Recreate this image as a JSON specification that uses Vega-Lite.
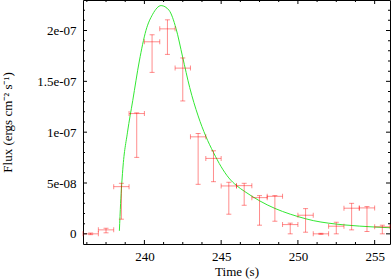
{
  "$schema": "https://vega.github.io/schema/vega-lite/v6.json",
  "width": 307,
  "height": 244,
  "autosize": "none",
  "padding": {"left": 83, "top": 0, "right": 1, "bottom": 35},
  "background": "white",
  "config": {
    "view": {"stroke": "#000", "strokeWidth": 1},
    "axis": {
      "domain": false, "grid": false, "ticks": false, "tickSize": 0,
      "labelFont": "Liberation Serif", "labelFontSize": 13, "labelColor": "#000",
      "titleFont": "Liberation Serif", "titleFontSize": 13, "titleFontWeight": "normal", "titleColor": "#000",
      "labelFlush": false, "labelOverlap": false, "labelBound": false, "labelPadding": 6
    },
    "axisX": {"titleY": 27, "titleBaseline": "middle", "titleAlign": "center"},
    "axisY": {"titleX": -76, "titleY": 122, "titleAngle": -90, "titleAlign": "center", "titleBaseline": "middle", "labelPadding": 7},
    "tick": {"color": "#000", "thickness": 1, "opacity": 1}
  },
  "datasets": {
    "model": [
      {"t": 238.37, "f": 0.3e-8}, {"t": 238.45, "f": 3.0e-8}, {"t": 238.59, "f": 6.3e-8},
      {"t": 238.9, "f": 10.0e-8}, {"t": 239.24, "f": 13.1e-8}, {"t": 239.67, "f": 17.0e-8},
      {"t": 240.1, "f": 20.0e-8}, {"t": 240.54, "f": 21.6e-8}, {"t": 241.09, "f": 22.45e-8},
      {"t": 241.6, "f": 22.0e-8}, {"t": 242.06, "f": 20.2e-8}, {"t": 242.49, "f": 17.4e-8},
      {"t": 242.95, "f": 14.4e-8}, {"t": 243.5, "f": 11.6e-8}, {"t": 244.0, "f": 9.6e-8},
      {"t": 244.5, "f": 8.0e-8}, {"t": 245.0, "f": 6.6e-8}, {"t": 245.5, "f": 5.5e-8},
      {"t": 246.0, "f": 4.75e-8}, {"t": 246.5, "f": 4.2e-8}, {"t": 247.0, "f": 3.7e-8},
      {"t": 247.5, "f": 3.25e-8}, {"t": 248.0, "f": 2.85e-8}, {"t": 248.5, "f": 2.5e-8},
      {"t": 249.0, "f": 2.2e-8}, {"t": 250.0, "f": 1.7e-8}, {"t": 251.0, "f": 1.3e-8},
      {"t": 252.0, "f": 1.05e-8}, {"t": 253.0, "f": 0.88e-8}, {"t": 254.0, "f": 0.76e-8},
      {"t": 255.0, "f": 0.67e-8}, {"t": 256.0, "f": 0.6e-8}
    ],
    "pts": [
      {"t": 236.5, "xlo": 236, "xhi": 237, "y": 0, "ylo": -0.08e-8, "yhi": 0.08e-8},
      {"t": 237.5, "xlo": 237, "xhi": 238, "y": 0.39e-8, "ylo": 0.1e-8, "yhi": 0.55e-8},
      {"t": 238.5, "xlo": 238, "xhi": 239, "y": 4.64e-8, "ylo": 1.44e-8, "yhi": 4.97e-8},
      {"t": 239.5, "xlo": 239, "xhi": 240, "y": 11.83e-8, "ylo": 7.52e-8, "yhi": 11.9e-8},
      {"t": 240.5, "xlo": 240, "xhi": 241, "y": 18.89e-8, "ylo": 15.88e-8, "yhi": 19.58e-8},
      {"t": 241.5, "xlo": 241, "xhi": 242, "y": 20.16e-8, "ylo": 17.65e-8, "yhi": 21.05e-8},
      {"t": 242.5, "xlo": 242, "xhi": 243, "y": 16.3e-8, "ylo": 13.07e-8, "yhi": 17.3e-8},
      {"t": 243.5, "xlo": 243, "xhi": 244, "y": 9.54e-8, "ylo": 4.87e-8, "yhi": 9.87e-8},
      {"t": 244.5, "xlo": 244, "xhi": 245, "y": 7.42e-8, "ylo": 5.13e-8, "yhi": 8.17e-8},
      {"t": 245.5, "xlo": 245, "xhi": 246, "y": 4.71e-8, "ylo": 1.93e-8, "yhi": 5.07e-8},
      {"t": 246.5, "xlo": 246, "xhi": 247, "y": 4.74e-8, "ylo": 2.81e-8, "yhi": 4.97e-8},
      {"t": 247.5, "xlo": 247, "xhi": 248, "y": 3.56e-8, "ylo": 0.85e-8, "yhi": 3.76e-8},
      {"t": 248.5, "xlo": 248, "xhi": 249, "y": 3.69e-8, "ylo": 1.24e-8, "yhi": 3.76e-8},
      {"t": 249.5, "xlo": 249, "xhi": 250, "y": 0.91e-8, "ylo": 0.0, "yhi": 1.05e-8},
      {"t": 250.5, "xlo": 250, "xhi": 251, "y": 1.83e-8, "ylo": 0.16e-8, "yhi": 2.48e-8},
      {"t": 251.5, "xlo": 251, "xhi": 252, "y": 0, "ylo": -0.05e-8, "yhi": 0.05e-8},
      {"t": 252.5, "xlo": 252, "xhi": 253, "y": 0.75e-8, "ylo": 0.0, "yhi": 1.14e-8},
      {"t": 253.5, "xlo": 253, "xhi": 254, "y": 2.52e-8, "ylo": 0.39e-8, "yhi": 3.0e-8},
      {"t": 254.5, "xlo": 254, "xhi": 255, "y": 2.55e-8, "ylo": 0.23e-8, "yhi": 2.68e-8},
      {"t": 255.5, "xlo": 255, "xhi": 256, "y": 0.69e-8, "ylo": 0.0, "yhi": 0.85e-8}
    ],
    "xmaj": [{"v": 240}, {"v": 245}, {"v": 250}, {"v": 255}],
    "xmin": [{"v": 236.25}, {"v": 237.5}, {"v": 238.75}, {"v": 241.25}, {"v": 242.5}, {"v": 243.75}, {"v": 246.25}, {"v": 247.5}, {"v": 248.75}, {"v": 251.25}, {"v": 252.5}, {"v": 253.75}],
    "ymaj": [{"v": 0}, {"v": 5e-8}, {"v": 1e-7}, {"v": 1.5e-7}, {"v": 2e-7}],
    "ymin": [{"v": 1e-8}, {"v": 2e-8}, {"v": 3e-8}, {"v": 4e-8}, {"v": 6e-8}, {"v": 7e-8}, {"v": 8e-8}, {"v": 9e-8}, {"v": 1.1e-7}, {"v": 1.2e-7}, {"v": 1.3e-7}, {"v": 1.4e-7}, {"v": 1.6e-7}, {"v": 1.7e-7}, {"v": 1.8e-7}, {"v": 1.9e-7}, {"v": 2.1e-7}, {"v": 2.2e-7}]
  },
  "layer": [
    {
      "data": {"name": "model"},
      "mark": {"type": "line", "color": "#33e833", "strokeWidth": 1, "interpolate": "monotone"},
      "encoding": {
        "x": {"field": "t", "type": "quantitative", "scale": {"domain": [236, 256], "nice": false, "zero": false}, "axis": {"title": "Time (s)", "values": [240, 245, 250, 255]}},
        "y": {"field": "f", "type": "quantitative", "scale": {"domain": [-1e-8, 2.3e-7], "nice": false, "zero": false}, "axis": {"title": "Flux (ergs cm⁻² s⁻¹)", "values": [0, 5e-8, 1e-7, 1.5e-7, 2e-7], "labelExpr": "datum.value == 0 ? '0' : replace(format(datum.value, '.2~e'), 'e-', 'e-0')"}}
      }
    },
    {
      "data": {"name": "pts"},
      "mark": {"type": "rule", "color": "#ff0000", "opacity": 0.45, "strokeWidth": 1},
      "encoding": {
        "x": {"field": "t", "type": "quantitative", "scale": {"domain": [236, 256], "nice": false, "zero": false}, "axis": {"title": "Time (s)", "values": [240, 245, 250, 255]}},
        "y": {"field": "ylo", "type": "quantitative", "scale": {"domain": [-1e-8, 2.3e-7], "nice": false, "zero": false}, "axis": {"title": "Flux (ergs cm⁻² s⁻¹)", "values": [0, 5e-8, 1e-7, 1.5e-7, 2e-7], "labelExpr": "datum.value == 0 ? '0' : replace(format(datum.value, '.2~e'), 'e-', 'e-0')"}},
        "y2": {"field": "yhi"}
      }
    },
    {
      "data": {"name": "pts"},
      "mark": {"type": "rule", "color": "#ff0000", "opacity": 0.45, "strokeWidth": 1},
      "encoding": {
        "x": {"field": "xlo", "type": "quantitative", "scale": {"domain": [236, 256], "nice": false, "zero": false}, "axis": {"title": "Time (s)", "values": [240, 245, 250, 255]}},
        "x2": {"field": "xhi"},
        "y": {"field": "y", "type": "quantitative", "scale": {"domain": [-1e-8, 2.3e-7], "nice": false, "zero": false}, "axis": {"title": "Flux (ergs cm⁻² s⁻¹)", "values": [0, 5e-8, 1e-7, 1.5e-7, 2e-7], "labelExpr": "datum.value == 0 ? '0' : replace(format(datum.value, '.2~e'), 'e-', 'e-0')"}}
      }
    },
    {
      "data": {"name": "pts"},
      "mark": {"type": "tick", "orient": "horizontal", "color": "#ff0000", "opacity": 0.45, "size": 5, "thickness": 1},
      "encoding": {
        "x": {"field": "t", "type": "quantitative", "scale": {"domain": [236, 256], "nice": false, "zero": false}, "axis": {"title": "Time (s)", "values": [240, 245, 250, 255]}},
        "y": {"field": "ylo", "type": "quantitative", "scale": {"domain": [-1e-8, 2.3e-7], "nice": false, "zero": false}, "axis": {"title": "Flux (ergs cm⁻² s⁻¹)", "values": [0, 5e-8, 1e-7, 1.5e-7, 2e-7], "labelExpr": "datum.value == 0 ? '0' : replace(format(datum.value, '.2~e'), 'e-', 'e-0')"}}
      }
    },
    {
      "data": {"name": "pts"},
      "mark": {"type": "tick", "orient": "horizontal", "color": "#ff0000", "opacity": 0.45, "size": 5, "thickness": 1},
      "encoding": {
        "x": {"field": "t", "type": "quantitative", "scale": {"domain": [236, 256], "nice": false, "zero": false}, "axis": {"title": "Time (s)", "values": [240, 245, 250, 255]}},
        "y": {"field": "yhi", "type": "quantitative", "scale": {"domain": [-1e-8, 2.3e-7], "nice": false, "zero": false}, "axis": {"title": "Flux (ergs cm⁻² s⁻¹)", "values": [0, 5e-8, 1e-7, 1.5e-7, 2e-7], "labelExpr": "datum.value == 0 ? '0' : replace(format(datum.value, '.2~e'), 'e-', 'e-0')"}}
      }
    },
    {
      "data": {"name": "pts"},
      "mark": {"type": "tick", "orient": "vertical", "color": "#ff0000", "opacity": 0.45, "size": 5, "thickness": 1},
      "encoding": {
        "x": {"field": "xlo", "type": "quantitative", "scale": {"domain": [236, 256], "nice": false, "zero": false}, "axis": {"title": "Time (s)", "values": [240, 245, 250, 255]}},
        "y": {"field": "y", "type": "quantitative", "scale": {"domain": [-1e-8, 2.3e-7], "nice": false, "zero": false}, "axis": {"title": "Flux (ergs cm⁻² s⁻¹)", "values": [0, 5e-8, 1e-7, 1.5e-7, 2e-7], "labelExpr": "datum.value == 0 ? '0' : replace(format(datum.value, '.2~e'), 'e-', 'e-0')"}}
      }
    },
    {
      "data": {"name": "pts"},
      "mark": {"type": "tick", "orient": "vertical", "color": "#ff0000", "opacity": 0.45, "size": 5, "thickness": 1},
      "encoding": {
        "x": {"field": "xhi", "type": "quantitative", "scale": {"domain": [236, 256], "nice": false, "zero": false}, "axis": {"title": "Time (s)", "values": [240, 245, 250, 255]}},
        "y": {"field": "y", "type": "quantitative", "scale": {"domain": [-1e-8, 2.3e-7], "nice": false, "zero": false}, "axis": {"title": "Flux (ergs cm⁻² s⁻¹)", "values": [0, 5e-8, 1e-7, 1.5e-7, 2e-7], "labelExpr": "datum.value == 0 ? '0' : replace(format(datum.value, '.2~e'), 'e-', 'e-0')"}}
      }
    },
    {
      "data": {"name": "xmaj"},
      "mark": {"type": "tick", "orient": "vertical", "size": 4, "yOffset": -2},
      "encoding": {
        "x": {"field": "v", "type": "quantitative", "scale": {"domain": [236, 256], "nice": false, "zero": false}, "axis": {"title": "Time (s)", "values": [240, 245, 250, 255]}},
        "y": {"datum": -1e-8, "type": "quantitative", "scale": {"domain": [-1e-8, 2.3e-7], "nice": false, "zero": false}, "axis": {"title": "Flux (ergs cm⁻² s⁻¹)", "values": [0, 5e-8, 1e-7, 1.5e-7, 2e-7], "labelExpr": "datum.value == 0 ? '0' : replace(format(datum.value, '.2~e'), 'e-', 'e-0')"}}
      }
    },
    {
      "data": {"name": "xmaj"},
      "mark": {"type": "tick", "orient": "vertical", "size": 4, "yOffset": 2},
      "encoding": {
        "x": {"field": "v", "type": "quantitative", "scale": {"domain": [236, 256], "nice": false, "zero": false}, "axis": {"title": "Time (s)", "values": [240, 245, 250, 255]}},
        "y": {"datum": 2.3e-7, "type": "quantitative", "scale": {"domain": [-1e-8, 2.3e-7], "nice": false, "zero": false}, "axis": {"title": "Flux (ergs cm⁻² s⁻¹)", "values": [0, 5e-8, 1e-7, 1.5e-7, 2e-7], "labelExpr": "datum.value == 0 ? '0' : replace(format(datum.value, '.2~e'), 'e-', 'e-0')"}}
      }
    },
    {
      "data": {"name": "xmin"},
      "mark": {"type": "tick", "orient": "vertical", "size": 2, "yOffset": -1},
      "encoding": {
        "x": {"field": "v", "type": "quantitative", "scale": {"domain": [236, 256], "nice": false, "zero": false}, "axis": {"title": "Time (s)", "values": [240, 245, 250, 255]}},
        "y": {"datum": -1e-8, "type": "quantitative", "scale": {"domain": [-1e-8, 2.3e-7], "nice": false, "zero": false}, "axis": {"title": "Flux (ergs cm⁻² s⁻¹)", "values": [0, 5e-8, 1e-7, 1.5e-7, 2e-7], "labelExpr": "datum.value == 0 ? '0' : replace(format(datum.value, '.2~e'), 'e-', 'e-0')"}}
      }
    },
    {
      "data": {"name": "xmin"},
      "mark": {"type": "tick", "orient": "vertical", "size": 2, "yOffset": 1},
      "encoding": {
        "x": {"field": "v", "type": "quantitative", "scale": {"domain": [236, 256], "nice": false, "zero": false}, "axis": {"title": "Time (s)", "values": [240, 245, 250, 255]}},
        "y": {"datum": 2.3e-7, "type": "quantitative", "scale": {"domain": [-1e-8, 2.3e-7], "nice": false, "zero": false}, "axis": {"title": "Flux (ergs cm⁻² s⁻¹)", "values": [0, 5e-8, 1e-7, 1.5e-7, 2e-7], "labelExpr": "datum.value == 0 ? '0' : replace(format(datum.value, '.2~e'), 'e-', 'e-0')"}}
      }
    },
    {
      "data": {"name": "ymaj"},
      "mark": {"type": "tick", "orient": "horizontal", "size": 4, "xOffset": 2},
      "encoding": {
        "x": {"datum": 236, "type": "quantitative", "scale": {"domain": [236, 256], "nice": false, "zero": false}, "axis": {"title": "Time (s)", "values": [240, 245, 250, 255]}},
        "y": {"field": "v", "type": "quantitative", "scale": {"domain": [-1e-8, 2.3e-7], "nice": false, "zero": false}, "axis": {"title": "Flux (ergs cm⁻² s⁻¹)", "values": [0, 5e-8, 1e-7, 1.5e-7, 2e-7], "labelExpr": "datum.value == 0 ? '0' : replace(format(datum.value, '.2~e'), 'e-', 'e-0')"}}
      }
    },
    {
      "data": {"name": "ymaj"},
      "mark": {"type": "tick", "orient": "horizontal", "size": 4, "xOffset": -2},
      "encoding": {
        "x": {"datum": 256, "type": "quantitative", "scale": {"domain": [236, 256], "nice": false, "zero": false}, "axis": {"title": "Time (s)", "values": [240, 245, 250, 255]}},
        "y": {"field": "v", "type": "quantitative", "scale": {"domain": [-1e-8, 2.3e-7], "nice": false, "zero": false}, "axis": {"title": "Flux (ergs cm⁻² s⁻¹)", "values": [0, 5e-8, 1e-7, 1.5e-7, 2e-7], "labelExpr": "datum.value == 0 ? '0' : replace(format(datum.value, '.2~e'), 'e-', 'e-0')"}}
      }
    },
    {
      "data": {"name": "ymin"},
      "mark": {"type": "tick", "orient": "horizontal", "size": 2, "xOffset": 1},
      "encoding": {
        "x": {"datum": 236, "type": "quantitative", "scale": {"domain": [236, 256], "nice": false, "zero": false}, "axis": {"title": "Time (s)", "values": [240, 245, 250, 255]}},
        "y": {"field": "v", "type": "quantitative", "scale": {"domain": [-1e-8, 2.3e-7], "nice": false, "zero": false}, "axis": {"title": "Flux (ergs cm⁻² s⁻¹)", "values": [0, 5e-8, 1e-7, 1.5e-7, 2e-7], "labelExpr": "datum.value == 0 ? '0' : replace(format(datum.value, '.2~e'), 'e-', 'e-0')"}}
      }
    },
    {
      "data": {"name": "ymin"},
      "mark": {"type": "tick", "orient": "horizontal", "size": 2, "xOffset": -1},
      "encoding": {
        "x": {"datum": 256, "type": "quantitative", "scale": {"domain": [236, 256], "nice": false, "zero": false}, "axis": {"title": "Time (s)", "values": [240, 245, 250, 255]}},
        "y": {"field": "v", "type": "quantitative", "scale": {"domain": [-1e-8, 2.3e-7], "nice": false, "zero": false}, "axis": {"title": "Flux (ergs cm⁻² s⁻¹)", "values": [0, 5e-8, 1e-7, 1.5e-7, 2e-7], "labelExpr": "datum.value == 0 ? '0' : replace(format(datum.value, '.2~e'), 'e-', 'e-0')"}}
      }
    }
  ]
}
